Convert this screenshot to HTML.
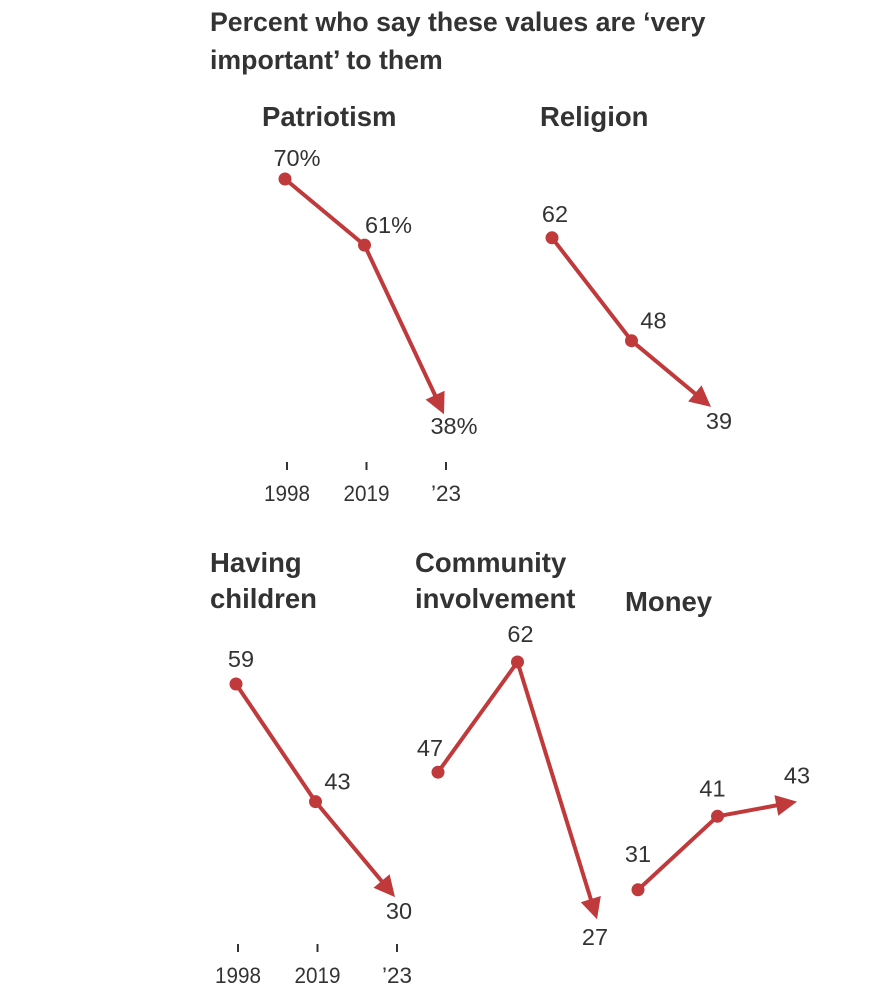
<!DOCTYPE html>
<html><head><meta charset="utf-8"><style>
body{margin:0;background:#fff;width:874px;height:994px;overflow:hidden;font-family:"Liberation Sans",sans-serif}
</style></head><body>
<svg id="c" width="874" height="994" xmlns="http://www.w3.org/2000/svg">
<text x="210" y="31" font-size="26.7" font-weight="bold" fill="#333">Percent who say these values are ‘very</text>
<text x="210" y="69" font-size="26.7" font-weight="bold" fill="#333">important’ to them</text>
</svg>
<script>
const panels=["Patriotism","Religion","Having children","Community involvement","Money"];
const years=["1998","2019","’23"];
const valPatriotism=[70,61,38];
const valReligion=[62,48,39];
const valChildren=[59,43,30];
const valCommunity=[47,62,27];
const valMoney=[31,41,43];
const series=[valPatriotism,valReligion,valChildren,valCommunity,valMoney];
const NS="http://www.w3.org/2000/svg",svg=document.getElementById("c");
const C="#c0393b";
const layout=[
 {x0:285,title:["Patriotism"],tx:262,ty:126,pct:true,axis:true,off:[[12,-13],[24,-12],[10,20]]},
 {x0:552,title:["Religion"],tx:540,ty:126,off:[[3,-16],[22,-12],[8,22]]},
 {x0:236,title:["Having","children"],tx:210,ty:572,axis:true,off:[[5,-17],[22,-12],[4,22]]},
 {x0:438,title:["Community","involvement"],tx:415,ty:572,off:[[-8,-16],[3,-20],[-2,26]]},
 {x0:638,title:["Money"],tx:625,ty:611,off:[[0,-28],[-5,-20],[0,-18]]}
];
function yS(p,v){return p<2?179+(70-v)*7.35:684+(59-v)*7.35;}
function xS(L,i){return L.x0+i*79.5;}
function el(t,a,txt){const e=document.createElementNS(NS,t);for(const k in a)e.setAttribute(k,a[k]);if(txt!==undefined)e.textContent=txt;svg.appendChild(e);return e;}
layout.forEach((L,p)=>{
 const vals=series[p];
 L.title.forEach((t,j)=>{const e=el("text",{x:L.tx,y:L.ty+j*36,"font-size":27.5,"font-weight":"bold",fill:"#333"},t);
 
 });
 const pts=vals.map((v,i)=>[xS(L,i),yS(p<2?0:2,v)]);
 for(let i=0;i<2;i++){
  let [x1,y1]=pts[i],[x2,y2]=pts[i+1];
  if(i==1){const dx=x2-x1,dy=y2-y1,d=Math.hypot(dx,dy);x2-=dx/d*14;y2-=dy/d*14;}
  const ln=el("line",{x1,y1,x2,y2,stroke:C,"stroke-width":4});
  
  
 }
 const [ax,ay]=pts[2],[bx,by]=pts[1];const dx=ax-bx,dy=ay-by,d=Math.hypot(dx,dy),ux=dx/d,uy=dy/d;
 const hx=ax-ux*21,hy=ay-uy*21;
 const ah=el("polygon",{points:`${ax},${ay} ${hx-uy*10.5},${hy+ux*10.5} ${hx+uy*10.5},${hy-ux*10.5}`,fill:C});
 
 
 for(let i=0;i<2;i++){const c=el("circle",{cx:pts[i][0],cy:pts[i][1],r:6.5,fill:C});
 
 }
 vals.forEach((v,i)=>{const t=el("text",{x:pts[i][0]+L.off[i][0],y:pts[i][1]+L.off[i][1],"font-size":23.5,fill:"#333","text-anchor":"middle"},v+(L.pct?"%":""));
 
 });
 if(L.axis){
  const ty=p<2?462:944;
  years.forEach((y,i)=>{const x=xS(L,i)+2;
   const tk=el("line",{x1:x,y1:ty,x2:x,y2:ty+8,stroke:"#333","stroke-width":2});
   
   
   const tl=el("text",{x:x,y:ty+39,"font-size":22,fill:"#333","text-anchor":"middle",textLength:i==2?30:46,lengthAdjust:"spacingAndGlyphs"},y);
   
   });
 }
});
</script>
</body></html>
